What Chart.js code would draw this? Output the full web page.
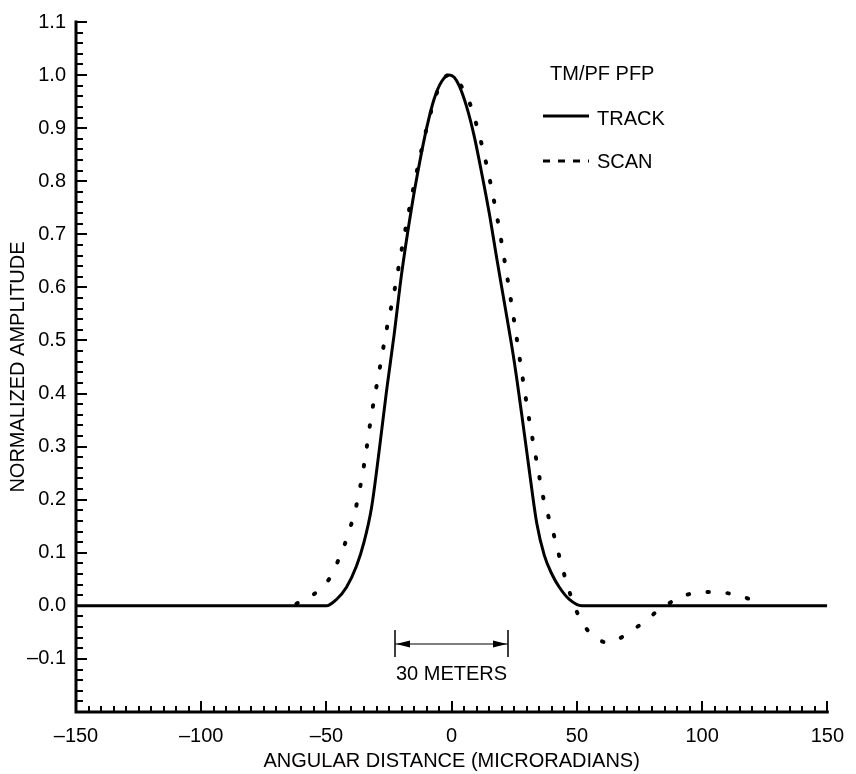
<!DOCTYPE html>
<html>
<head>
<meta charset="utf-8">
<script src="https://cdn.jsdelivr.net/npm/chart.js@4.4.0/dist/chart.umd.min.js"></script>
<style>
  html, body { margin: 0; padding: 0; background: #fff; }
  #wrap { width: 856px; height: 774px; }
</style>
</head>
<body>
<div id="wrap"><canvas id="chart" width="856" height="774"></canvas></div>
<script>
// track curve (solid)
const trackX = [-150, -50, -46, -42, -38, -35, -32, -29, -26, -23, -20, -16, -13, -10, -7, -4, -1,
  1, 3, 6, 9, 12, 15, 18, 22, 25, 28, 31, 34, 37, 40, 43, 47, 52, 150];
const trackY = [0, 0, 0.012, 0.035, 0.075, 0.12, 0.185, 0.29, 0.405, 0.51, 0.625, 0.75, 0.83, 0.9, 0.955, 0.988, 1.0,
  0.996, 0.98, 0.94, 0.885, 0.815, 0.74, 0.655, 0.545, 0.46, 0.36, 0.255, 0.155, 0.095, 0.06, 0.035, 0.012, 0, 0];

// scan curve (dotted)
const scanX = [-62, -58, -55, -52, -49, -46, -43, -41, -38, -35, -32, -29, -26, -23, -20, -16, -12, -8, -4, -1,
  3, 7, 10, 13, 16, 19, 22, 25, 28, 31, 34, 37, 40, 43, 46, 49, 52, 56, 60, 63, 66, 70, 74, 78, 82, 86,
  90, 94, 98, 102, 106, 110, 114, 117, 120];
const scanY = [0.004, 0.014, 0.022, 0.034, 0.05, 0.078, 0.112, 0.14, 0.19, 0.265, 0.36, 0.44, 0.52, 0.59, 0.67, 0.77, 0.86, 0.935, 0.988, 1.0,
  0.985, 0.95, 0.905, 0.85, 0.785, 0.71, 0.625, 0.535, 0.44, 0.35, 0.27, 0.195, 0.148, 0.093, 0.042, 0.0, -0.03, -0.055, -0.067, -0.069, -0.064, -0.053, -0.04, -0.027, -0.01, 0.002,
  0.014, 0.021, 0.025, 0.026, 0.026, 0.024, 0.02, 0.016, 0.011];

// axis ticks
const xTickValues = [-150, -100, -50, 0, 50, 100, 150];
const xTickLabels = ['\u2013150', '\u2013100', '\u201350', '0', '50', '100', '150'];
const yTickValues = [-0.1, 0, 0.1, 0.2, 0.3, 0.4, 0.5, 0.6, 0.7, 0.8, 0.9, 1.0, 1.1];
const yTickLabels = ['\u20130.1', '0.0', '0.1', '0.2', '0.3', '0.4', '0.5', '0.6', '0.7', '0.8', '0.9', '1.0', '1.1'];

const legendTitle = 'TM/PF PFP';
const seriesNames = ['TRACK', 'SCAN'];
const spanLabel = '30 METERS';
const spanEnds = [-22.5, 22.5];
const spanLevel = -0.072;

const FONT = '"Liberation Sans", Arial, Helvetica, sans-serif';
Chart.defaults.font.family = FONT;
Chart.defaults.font.size = 20;
Chart.defaults.color = '#000';

function toPoints(xs, ys) {
  return xs.map((x, i) => ({ x: x, y: ys[i] }));
}

// axes, inward tick marks, legend and the 30 m marker
const framePlugin = {
  id: 'frame',
  afterDraw(chart) {
    const ctx = chart.ctx;
    const xs = chart.scales.x, ys = chart.scales.y;
    const area = chart.chartArea;
    ctx.save();
    ctx.strokeStyle = '#000';
    ctx.fillStyle = '#000';

    // axis lines
    ctx.lineWidth = 3;
    ctx.lineCap = 'square';
    ctx.beginPath();
    ctx.moveTo(area.left, ys.getPixelForValue(1.1));
    ctx.lineTo(area.left, area.bottom);
    ctx.lineTo(xs.getPixelForValue(150), area.bottom);
    ctx.stroke();

    // tick marks
    ctx.lineWidth = 2;
    ctx.lineCap = 'butt';
    ctx.beginPath();
    for (let i = 0; i <= 60; i++) {
      const px = Math.round(xs.getPixelForValue(-150 + i * 5));
      const len = i % 10 === 0 ? 11 : 6;
      ctx.moveTo(px, area.bottom);
      ctx.lineTo(px, area.bottom - len);
    }
    for (let i = 0; i <= 65; i++) {
      const py = Math.round(ys.getPixelForValue(-0.2 + i * 0.02));
      const len = i % 5 === 0 ? 11 : 7;
      ctx.moveTo(area.left, py);
      ctx.lineTo(area.left + len, py);
    }
    ctx.stroke();

    // legend
    ctx.font = '20px ' + FONT;
    ctx.textBaseline = 'alphabetic';
    ctx.textAlign = 'left';
    ctx.fillText(legendTitle, 550, 80);
    ctx.fillText(seriesNames[0], 597, 125);
    ctx.fillText(seriesNames[1], 597, 168);
    ctx.lineWidth = 3;
    ctx.beginPath();
    ctx.moveTo(543, 116);
    ctx.lineTo(589, 116);
    ctx.stroke();
    ctx.beginPath();
    ctx.setLineDash([7, 8]);
    ctx.moveTo(543, 161);
    ctx.lineTo(589, 161);
    ctx.stroke();
    ctx.setLineDash([]);

    // 30 meters span marker
    const xa = Math.round(xs.getPixelForValue(spanEnds[0]));
    const xb = Math.round(xs.getPixelForValue(spanEnds[1]));
    const ym = Math.round(ys.getPixelForValue(spanLevel));
    ctx.lineWidth = 1.5;
    ctx.beginPath();
    ctx.moveTo(xa, ym - 14); ctx.lineTo(xa, ym + 13);
    ctx.moveTo(xb, ym - 14); ctx.lineTo(xb, ym + 13);
    ctx.stroke();
    ctx.lineWidth = 1;
    ctx.beginPath();
    ctx.moveTo(xa, ym); ctx.lineTo(xb, ym);
    ctx.stroke();
    ctx.beginPath();
    ctx.moveTo(xa + 1, ym); ctx.lineTo(xa + 15, ym - 3.5); ctx.lineTo(xa + 15, ym + 3.5); ctx.closePath();
    ctx.moveTo(xb - 1, ym); ctx.lineTo(xb - 15, ym - 3.5); ctx.lineTo(xb - 15, ym + 3.5); ctx.closePath();
    ctx.fill();
    ctx.textAlign = 'center';
    ctx.fillText(spanLabel, (xa + xb) / 2, ym + 36);

    ctx.restore();
  }
};

new Chart(document.getElementById('chart').getContext('2d'), {
  type: 'line',
  data: {
    datasets: [
      {
        label: seriesNames[1],
        data: toPoints(scanX, scanY),
        borderColor: '#000',
        borderWidth: 4,
        borderDash: [1.5, 18.5],
        borderCapStyle: 'round',
        pointRadius: 0,
        fill: false,
        cubicInterpolationMode: 'monotone'
      },
      {
        label: seriesNames[0],
        data: toPoints(trackX, trackY),
        borderColor: '#000',
        borderWidth: 3,
        pointRadius: 0,
        fill: false,
        cubicInterpolationMode: 'monotone'
      }
    ]
  },
  options: {
    responsive: false,
    animation: false,
    layout: { padding: { top: 16, right: 27, left: 0, bottom: 0 } },
    plugins: {
      legend: { display: false },
      tooltip: { enabled: false }
    },
    scales: {
      x: {
        type: 'linear',
        min: -150,
        max: 150,
        afterFit: (scale) => { scale.height = 62; },
        afterBuildTicks: (scale) => { scale.ticks = xTickValues.map(v => ({ value: v })); },
        ticks: {
          padding: 12,
          maxRotation: 0,
          autoSkip: false,
          callback: (value, index) => xTickLabels[index]
        },
        grid: { display: false, drawTicks: false },
        border: { display: false },
        title: {
          display: true,
          text: 'ANGULAR DISTANCE (MICRORADIANS)',
          padding: { top: 0, bottom: 1 }
        }
      },
      y: {
        type: 'linear',
        min: -0.2,
        max: 1.1,
        afterFit: (scale) => { scale.width = 76; },
        afterBuildTicks: (scale) => { scale.ticks = yTickValues.map(v => ({ value: v })); },
        ticks: {
          padding: 10,
          autoSkip: false,
          callback: (value, index) => yTickLabels[index]
        },
        grid: { display: false, drawTicks: false },
        border: { display: false },
        title: {
          display: true,
          text: 'NORMALIZED AMPLITUDE',
          padding: { top: 6, bottom: 0 }
        }
      }
    }
  },
  plugins: [framePlugin]
});
</script>
</body>
</html>
